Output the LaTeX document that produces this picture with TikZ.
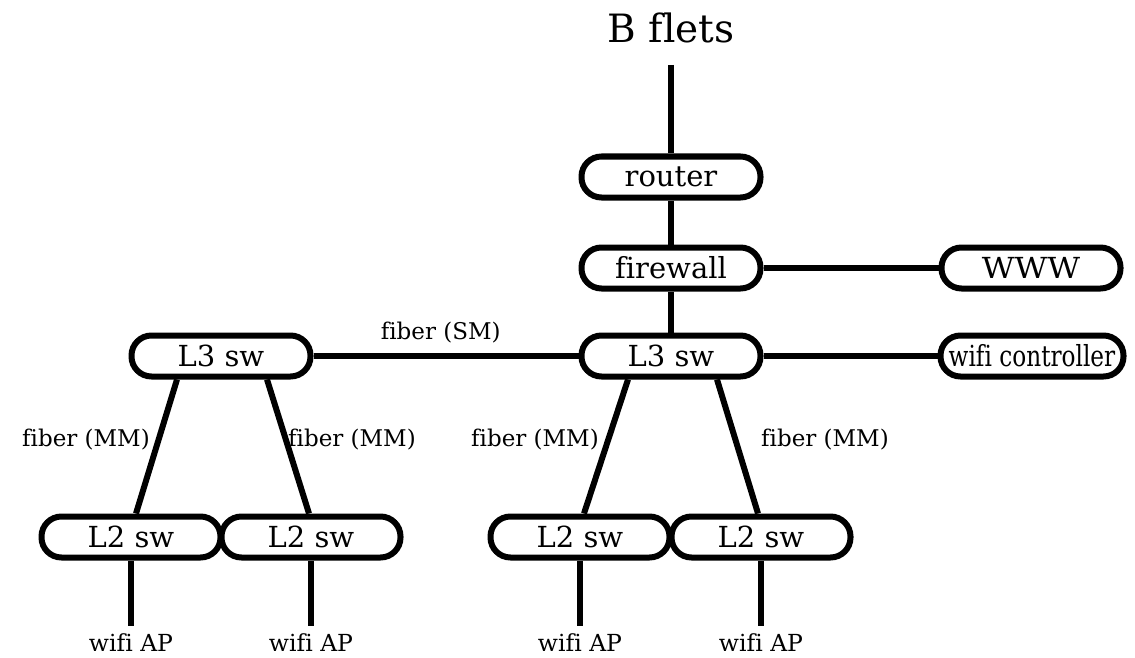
\documentclass[tikz,border=0pt]{standalone}
\usepackage{fontspec}
\setmainfont[Ligatures=NoCommon]{DejaVu Serif}
\usetikzlibrary{calc}
\tikzset{
  box/.style={draw=black, line width=6pt, rectangle, rounded corners=20pt,
    minimum width=179pt, minimum height=41pt, inner sep=0pt, fill=white,
    font=\fontsize{29}{29}\selectfont},
  link/.style={line width=6pt},
  elabel/.style={font=\fontsize{23}{23}\selectfont, inner sep=0pt},
  aplabel/.style={font=\fontsize{23.5}{23.5}\selectfont, inner sep=0pt},
}
\begin{document}
\begin{tikzpicture}[x=1pt,y=-1pt]
\useasboundingbox (0,0) rectangle (1135,658);
\fill[white] (0,0) rectangle (1135,658);

\node[font=\fontsize{39}{39}\selectfont, inner sep=0pt] (bflets) at (671,28) {B flets};
\coordinate (btop) at (671,65);

\node[box] (router) at (671,177) {router};
\node[box] (fw) at (671,268) {firewall};
\node[box] (www) at (1031,268) {\scalebox{1.1}[1]{WWW}};
\node[box] (l3b) at (671,356) {L3 sw};
\node[box] (l3a) at (221,356) {L3 sw};
\node[box, minimum width=183pt] (wc) at (1032,356) {\scalebox{0.8}[1]{wifi controller}};

\node[box] (l2a) at (131,537) {L2 sw};
\node[box] (l2b) at (311,537) {L2 sw};
\node[box] (l2c) at (580,537) {L2 sw};
\node[box] (l2d) at (761,537) {L2 sw};

\node[aplabel] (ap1) at (131,643) {wifi AP};
\node[aplabel] (ap2) at (311,643) {wifi AP};
\node[aplabel] (ap3) at (580,643) {wifi AP};
\node[aplabel] (ap4) at (761,643) {wifi AP};

% connectors
\draw[link] (btop) -- (router.north);
\draw[link] (router.south) -- (fw.north);
\draw[link] (fw.south) -- (l3b.north);
\draw[link] (fw.east) -- (www.west);
\draw[link] (l3b.east) -- (wc.west);
\draw[link] (l3a.east) -- node[elabel, above=10pt, pos=0.48] (lsm) {fiber (SM)} (l3b.west);

\draw[link] ([xshift=-44pt]l3a.south) -- ([xshift=5pt]l2a.north);
\draw[link] ([xshift=46pt]l3a.south) -- ([xshift=-2pt]l2b.north);
\draw[link] ([xshift=-43pt]l3b.south) -- ([xshift=4pt]l2c.north);
\draw[link] ([xshift=46pt]l3b.south) -- ([xshift=-3pt]l2d.north);

\node[elabel] (m1) at (86,440) {fiber (MM)};
\node[elabel] (m2) at (352,440) {fiber (MM)};
\node[elabel] (m3) at (535,440) {fiber (MM)};
\node[elabel] (m4) at (825,440) {fiber (MM)};

\draw[link] (l2a.south) -- ([yshift=8pt]ap1.north);
\draw[link] (l2b.south) -- ([yshift=8pt]ap2.north);
\draw[link] (l2c.south) -- ([yshift=8pt]ap3.north);
\draw[link] (l2d.south) -- ([yshift=8pt]ap4.north);
\end{tikzpicture}
\end{document}
